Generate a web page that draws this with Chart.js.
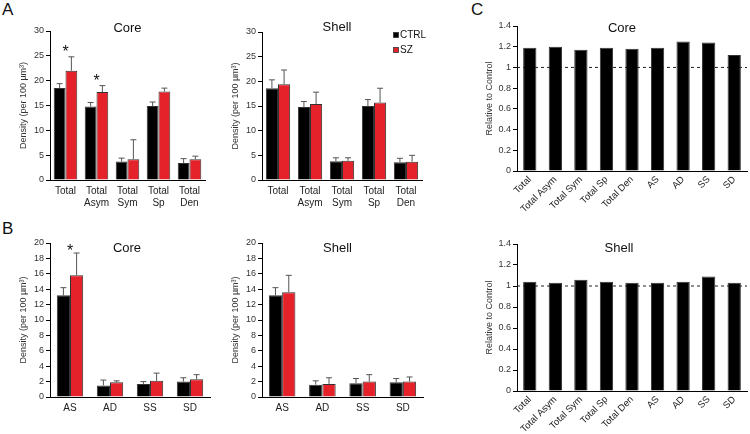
<!DOCTYPE html>
<html lang="en">

<head>
    <meta charset="UTF-8">
    <title>Spine density figure</title>
    <link rel="icon" href="data:,">
    <script src="https://cdn.jsdelivr.net/npm/chart.js"></script>
    <style>
        body { margin: 0; background: #fff; }
        #fig { position: relative; width: 750px; height: 434px; background: #fff; overflow: hidden; }
        .box { position: absolute; }
        .letter { position: absolute; font: 17px Arial, "Liberation Sans", sans-serif; color: #111; line-height: 20px; }
    </style>
</head>

<body>
    <div id="fig">
        <div class="letter" style="left:2px;top:0px">A</div>
        <div class="letter" style="left:2px;top:219px">B</div>
        <div class="letter" style="left:471px;top:0px">C</div>
        <div class="box" style="left:0;top:0;width:210px;height:210px"><canvas id="aCore"></canvas></div>
        <div class="box" style="left:212px;top:0;width:215px;height:210px"><canvas id="aShell"></canvas></div>
        <div class="box" style="left:0;top:214px;width:215px;height:214px"><canvas id="bCore"></canvas></div>
        <div class="box" style="left:212px;top:214px;width:216px;height:214px"><canvas id="bShell"></canvas></div>
        <div class="box" style="left:460px;top:0;width:290px;height:220px"><canvas id="cCore"></canvas></div>
        <div class="box" style="left:460px;top:220px;width:290px;height:214px"><canvas id="cShell"></canvas></div>
    </div>

    <script>
        // categories
        const groupsA = ['Total', ['Total', 'Asym'], ['Total', 'Sym'], ['Total', 'Sp'], ['Total', 'Den']];
        const groupsB = ['AS', 'AD', 'SS', 'SD'];
        const groupsC = ['Total', 'Total Asym', 'Total Sym', 'Total Sp', 'Total Den', 'AS', 'AD', 'SS', 'SD'];

        // A - total densities (mean, sem)
        const aCoreCtrl = [18.5, 14.8, 3.7, 14.9, 3.4];
        const aCoreCtrlErr = [0.9, 0.8, 0.7, 0.8, 0.9];
        const aCoreSz = [22.0, 17.7, 4.2, 17.8, 4.2];
        const aCoreSzErr = [2.8, 1.3, 3.9, 0.7, 0.6];
        const aShellCtrl = [18.6, 14.8, 3.8, 15.0, 3.6];
        const aShellCtrlErr = [1.7, 1.1, 0.7, 1.3, 0.8];
        const aShellSz = [19.4, 15.4, 3.9, 15.7, 3.7];
        const aShellSzErr = [2.9, 2.4, 0.6, 2.9, 1.3];

        // B - synapse subtypes
        const bCoreCtrl = [13.2, 1.5, 1.7, 2.0];
        const bCoreCtrlErr = [1.0, 0.7, 0.3, 0.5];
        const bCoreSz = [15.8, 1.9, 2.1, 2.3];
        const bCoreSzErr = [2.9, 0.2, 1.0, 0.6];
        const bShellCtrl = [13.2, 1.6, 1.8, 1.9];
        const bShellCtrlErr = [1.0, 0.5, 0.6, 0.5];
        const bShellSz = [13.6, 1.7, 2.0, 2.0];
        const bShellSzErr = [2.2, 0.8, 0.9, 0.6];

        // significance marks: [category index, height]
        const aCoreStars = [[0, 26.2], [1, 20.5]];
        const bCoreStars = [[0, 19.3]];

        // C - SZ relative to control
        const cCore = [1.19, 1.20, 1.17, 1.19, 1.18, 1.19, 1.25, 1.24, 1.12];
        const cShell = [1.04, 1.03, 1.06, 1.04, 1.03, 1.03, 1.04, 1.09, 1.03];

        const FONT = 'Arial, "Liberation Sans", sans-serif';
        Chart.defaults.font.family = FONT;
        const RED = '#e52229';

        const errorBars = {
            id: 'errorBars',
            afterDatasetsDraw(chart) {
                const ctx = chart.ctx;
                const y = chart.scales.y;
                chart.data.datasets.forEach((ds, i) => {
                    if (!ds.errors) return;
                    chart.getDatasetMeta(i).data.forEach((bar, j) => {
                        const top = y.getPixelForValue(ds.data[j] + ds.errors[j]);
                        ctx.save();
                        ctx.strokeStyle = '#555';
                        ctx.lineWidth = 1;
                        ctx.beginPath();
                        ctx.moveTo(bar.x, bar.y);
                        ctx.lineTo(bar.x, top);
                        ctx.moveTo(bar.x - 3, top);
                        ctx.lineTo(bar.x + 3, top);
                        ctx.stroke();
                        ctx.restore();
                    });
                });
            }
        };

        const panelTitle = {
            id: 'panelTitle',
            afterDraw(chart, args, opts) {
                if (!opts.text) return;
                const a = chart.chartArea, ctx = chart.ctx;
                ctx.save();
                ctx.font = '13px ' + FONT;
                ctx.fillStyle = '#111';
                ctx.textAlign = 'center';
                ctx.textBaseline = 'middle';
                ctx.fillText(opts.text, (a.left + a.right) / 2 + opts.dx, a.top + opts.dy);
                ctx.restore();
            }
        };

        const stars = {
            id: 'stars',
            afterDraw(chart, args, opts) {
                if (!opts.marks) return;
                const ctx = chart.ctx;
                ctx.save();
                ctx.font = '16px ' + FONT;
                ctx.fillStyle = '#111';
                ctx.textAlign = 'center';
                ctx.textBaseline = 'middle';
                opts.marks.forEach(m => {
                    const x = chart.scales.x.getPixelForValue(m[0]);
                    const y = chart.scales.y.getPixelForValue(m[1]);
                    ctx.fillText('*', x, y + 3);
                });
                ctx.restore();
            }
        };

        const sideLegend = {
            id: 'sideLegend',
            afterDraw(chart, args, opts) {
                if (!opts.show) return;
                const a = chart.chartArea, ctx = chart.ctx;
                ctx.save();
                ctx.font = '10px ' + FONT;
                ctx.textBaseline = 'middle';
                chart.data.datasets.forEach((ds, i) => {
                    const x = a.right + opts.dx, y = a.top + opts.dy + i * 15;
                    ctx.fillStyle = ds.backgroundColor;
                    ctx.fillRect(x - 2.5, y - 2.5, 5, 5);
                    ctx.strokeStyle = '#333';
                    ctx.lineWidth = 0.8;
                    ctx.strokeRect(x - 2.5, y - 2.5, 5, 5);
                    ctx.fillStyle = '#111';
                    ctx.fillText(ds.label, x + 4, y + 0.5);
                });
                ctx.restore();
            }
        };

        const refLine = {
            id: 'refLine',
            beforeDatasetsDraw(chart, args, opts) {
                if (opts.value === undefined) return;
                const a = chart.chartArea, ctx = chart.ctx;
                const y = chart.scales.y.getPixelForValue(opts.value);
                ctx.save();
                ctx.strokeStyle = '#222';
                ctx.lineWidth = 1;
                ctx.setLineDash([3, 3]);
                ctx.beginPath();
                ctx.moveTo(a.left, y);
                ctx.lineTo(a.right, y);
                ctx.stroke();
                ctx.restore();
            }
        };

        function barSet(label, data, errors, color) {
            return {
                label: label,
                data: data,
                errors: errors,
                backgroundColor: color,
                borderColor: '#333',
                borderWidth: 1,
                borderSkipped: 'bottom'
            };
        }

        function makeChart(id, cfg) {
            return new Chart(document.getElementById(id), {
                type: 'bar',
                data: { labels: cfg.labels, datasets: cfg.datasets },
                options: {
                    responsive: true,
                    maintainAspectRatio: false,
                    animation: false,
                    layout: { padding: { top: cfg.padTop, right: cfg.padRight, left: 0, bottom: 0 } },
                    datasets: { bar: { categoryPercentage: cfg.catPct, barPercentage: 1 } },
                    plugins: {
                        legend: { display: false },
                        tooltip: { enabled: false },
                        panelTitle: cfg.title,
                        stars: { marks: cfg.stars },
                        sideLegend: { show: !!cfg.legend, dx: -26, dy: 3 },
                        refLine: { value: cfg.refLine }
                    },
                    scales: {
                        x: {
                            grid: { display: false, drawTicks: false },
                            border: { color: '#000', width: 1 },
                            ticks: {
                                color: '#222', font: { size: cfg.xFont }, padding: cfg.xPad,
                                minRotation: cfg.rot, maxRotation: cfg.rot, autoSkip: false
                            },
                            afterFit: s => { s.height = cfg.xH; }
                        },
                        y: {
                            min: 0,
                            max: cfg.yMax,
                            ticks: {
                                stepSize: cfg.step, color: '#333', font: { size: 9 }, padding: 2,
                                callback: v => String(Number(v.toFixed(1)))
                            },
                            grid: { drawOnChartArea: false, tickLength: 4, color: '#000' },
                            border: { color: '#000', width: 1 },
                            title: {
                                display: true, text: cfg.yTitle, color: '#333',
                                font: { size: 9 }, padding: { top: cfg.yTitlePad, bottom: 0 }
                            },
                            afterFit: s => { s.width = cfg.yW; }
                        }
                    }
                },
                plugins: [refLine, errorBars, panelTitle, stars, sideLegend]
            });
        }

        const densityTitle = 'Density (per 100 \u00b5m\u00b3)';

        makeChart('aCore', {
            labels: groupsA,
            datasets: [barSet('CTRL', aCoreCtrl, aCoreCtrlErr, '#000'), barSet('SZ', aCoreSz, aCoreSzErr, RED)],
            padTop: 31, padRight: 5, yW: 50, xH: 30, catPct: 0.76,
            yMax: 30, step: 5, yTitle: densityTitle, yTitlePad: 18,
            xFont: 10, xPad: 5, rot: 0,
            title: { text: 'Core', dx: 0, dy: -3 },
            stars: aCoreStars
        });

        makeChart('aShell', {
            labels: groupsA,
            datasets: [barSet('CTRL', aShellCtrl, aShellCtrlErr, '#000'), barSet('SZ', aShellSz, aShellSzErr, RED)],
            padTop: 32, padRight: 5, yW: 50, xH: 30, catPct: 0.76,
            yMax: 30, step: 5, yTitle: densityTitle, yTitlePad: 18,
            xFont: 10, xPad: 5, rot: 0,
            title: { text: 'Shell', dx: -5, dy: -5 },
            legend: true
        });

        makeChart('bCore', {
            labels: groupsB,
            datasets: [barSet('CTRL', bCoreCtrl, bCoreCtrlErr, '#000'), barSet('SZ', bCoreSz, bCoreSzErr, RED)],
            padTop: 29, padRight: 5, yW: 50, xH: 31, catPct: 0.66,
            yMax: 20, step: 2, yTitle: densityTitle, yTitlePad: 18,
            xFont: 10, xPad: 5, rot: 0,
            title: { text: 'Core', dx: -3, dy: 5 },
            stars: bCoreStars
        });

        makeChart('bShell', {
            labels: groupsB,
            datasets: [barSet('CTRL', bShellCtrl, bShellCtrlErr, '#000'), barSet('SZ', bShellSz, bShellSzErr, RED)],
            padTop: 29, padRight: 5, yW: 50, xH: 31, catPct: 0.66,
            yMax: 20, step: 2, yTitle: densityTitle, yTitlePad: 18,
            xFont: 10, xPad: 5, rot: 0,
            title: { text: 'Shell', dx: -5, dy: 5 }
        });

        makeChart('cCore', {
            labels: groupsC,
            datasets: [barSet('SZ/CTRL', cCore, null, '#000')],
            padTop: 26, padRight: 3, yW: 57, xH: 49, catPct: 0.52,
            yMax: 1.4, step: 0.2, yTitle: 'Relative to Control', yTitlePad: 24,
            xFont: 9.5, xPad: 3, rot: 45,
            title: { text: 'Core', dx: -10, dy: 2 },
            refLine: 1
        });

        makeChart('cShell', {
            labels: groupsC,
            datasets: [barSet('SZ/CTRL', cShell, null, '#000')],
            padTop: 24, padRight: 3, yW: 57, xH: 43, catPct: 0.52,
            yMax: 1.4, step: 0.2, yTitle: 'Relative to Control', yTitlePad: 24,
            xFont: 9.5, xPad: 3, rot: 45,
            title: { text: 'Shell', dx: -13, dy: 4 },
            refLine: 1
        });
    </script>
</body>

</html>
